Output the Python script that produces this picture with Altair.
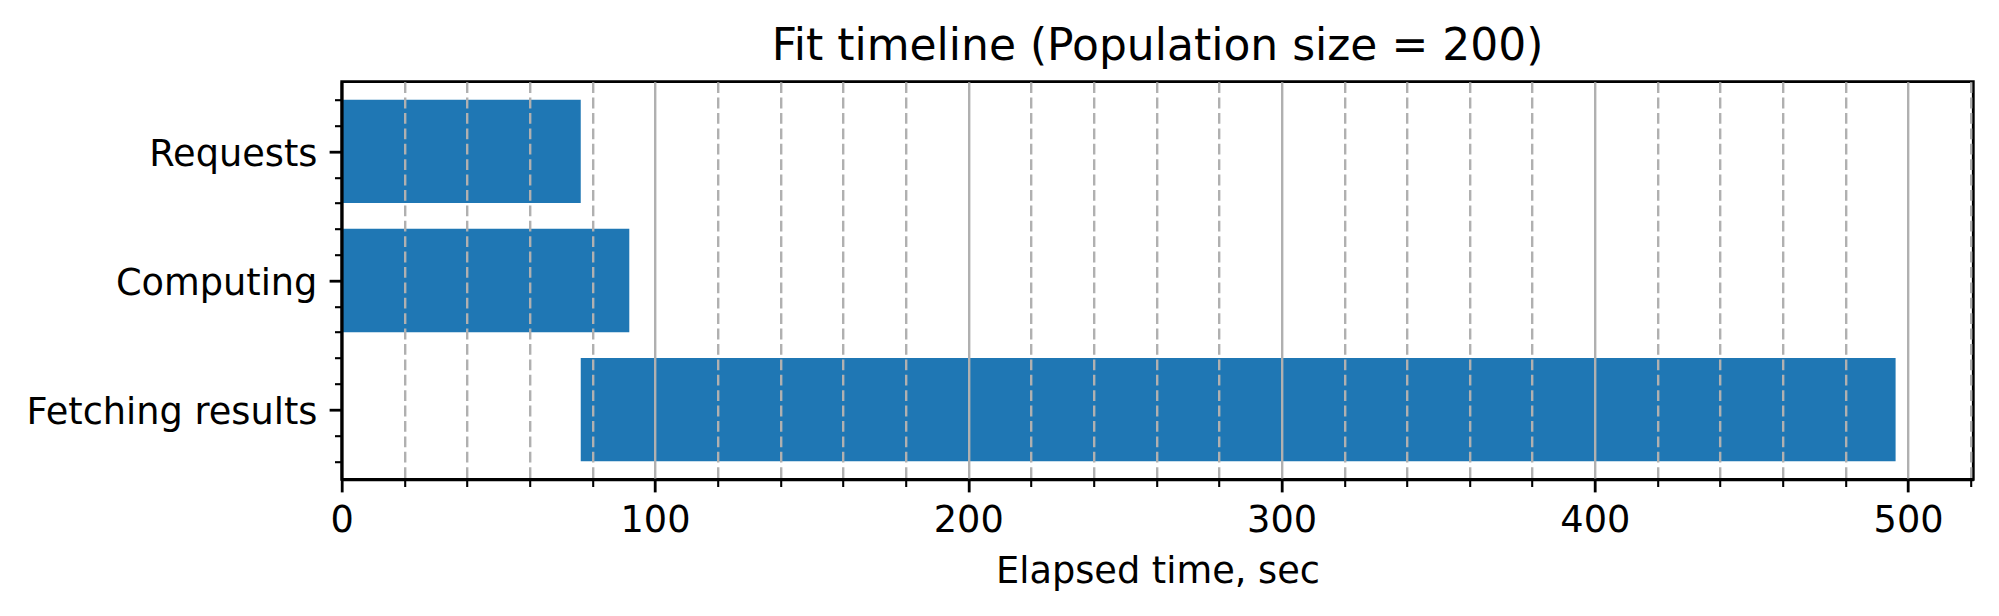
import json
import altair as alt
import pandas as pd

# ---- data ----
tasks = ["Requests", "Computing", "Fetching results"]
starts = [0.0, 0.0, 76.3]
ends = [76.3, 91.8, 496.0]

x_major_ticks = [0, 100, 200, 300, 400, 500]
x_minor_ticks = [20, 40, 60, 80, 120, 140, 160, 180, 220, 240, 260, 280,
                 320, 340, 360, 380, 420, 440, 460, 480, 520]
y_ticks = [-0.4, -0.2, 0.0, 0.2, 0.4, 0.6, 0.8, 1.0, 1.2, 1.4, 1.6, 1.8,
           2.0, 2.2, 2.4]

title_text = "Fit timeline (Population size = 200)"
x_title = "Elapsed time, sec"

# ---- build table ----
n = len(tasks)
df = pd.DataFrame({
    "task": tasks,
    "start": starts,
    "end": ends,
    "idx": [n - 1 - i for i in range(n)],
})
title_df = pd.DataFrame({"text": [title_text]})

FONT = "DejaVu Sans"
W, H = 1631.6, 397.6
LABEL_SIZE = 36.7
TITLE_SIZE = 44.0
bar_color = "#1f77b4"
grid_color = "#b0b0b0"

x_values = sorted(x_major_ticks + x_minor_ticks)
is_major_x = "datum.value % 100 === 0"
is_major_y = "abs(datum.value - round(datum.value)) < 0.001"
labels_bottom_up = json.dumps(list(reversed(tasks)))

x_axis = alt.Axis(
    values=x_values,
    grid=True,
    gridColor=grid_color,
    gridWidth=2.4,
    gridDash={"condition": {"test": is_major_x, "value": []}, "value": [10.8, 4.6]},
    gridOpacity={"condition": {"test": "datum.value === 0", "value": 0}, "value": 1},
    tickColor="black",
    tickSize={"condition": {"test": is_major_x, "value": 12.6}, "value": 7.2},
    tickWidth={"condition": {"test": is_major_x, "value": 2.8}, "value": 2.1},
    domainColor="black",
    domainWidth=2.8,
    labelExpr=f"{is_major_x} ? datum.label : ''",
    labelFont=FONT,
    labelFontSize=LABEL_SIZE,
    labelColor="black",
    labelPadding=11,
    labelFlush=False,
    labelOverlap=False,
    labelLimit=0,
    title=x_title,
    titleFont=FONT,
    titleFontSize=LABEL_SIZE,
    titleFontWeight="normal",
    titleColor="black",
    titleBaseline="alphabetic",
    titleX=W / 2,
    titleY=103.4,
    titleAlign="center",
    zindex=1,
)

y_axis = alt.Axis(
    values=y_ticks,
    grid=False,
    tickColor="black",
    tickSize={"condition": {"test": is_major_y, "value": 12.6}, "value": 7.2},
    tickWidth={"condition": {"test": is_major_y, "value": 2.8}, "value": 2.1},
    domainColor="black",
    domainWidth=2.8,
    labelExpr=f"{is_major_y} ? {labels_bottom_up}[round(datum.value)] : ''",
    labelFont=FONT,
    labelFontSize=LABEL_SIZE,
    labelColor="black",
    labelPadding=12.2,
    labelBaseline="alphabetic",
    labelOffset=14,
    labelFlush=False,
    labelOverlap=False,
    labelLimit=0,
    title="",
    zindex=1,
)

bars = alt.Chart(df).transform_calculate(
    y_lo="datum.idx - 0.4",
    y_hi="datum.idx + 0.4",
).mark_bar(color=bar_color, strokeWidth=0).encode(
    x=alt.X("start:Q", scale=alt.Scale(domain=[0, 520.8], nice=False, zero=False), axis=x_axis),
    x2="end:Q",
    y=alt.Y("y_lo:Q", scale=alt.Scale(domain=[-0.54, 2.54], nice=False, zero=False), axis=y_axis),
    y2="y_hi:Q",
)

title_mark = alt.Chart(title_df).mark_text(
    font=FONT,
    fontSize=TITLE_SIZE,
    color="black",
    align="center",
    baseline="alphabetic",
).encode(
    text="text:N",
    x=alt.value(W / 2),
    y=alt.value(-21.5),
)

chart = alt.layer(bars, title_mark).properties(
    width=W,
    height=H,
    autosize=alt.AutoSizeParams(type="none"),
    padding={"left": 333.7, "top": 73.7, "right": 10, "bottom": 120},
).configure(
    background="white",
    view=alt.ViewConfig(stroke="black", strokeWidth=2.8),
)

chart.save("out.html", embed_options={"renderer": "svg", "actions": False})
